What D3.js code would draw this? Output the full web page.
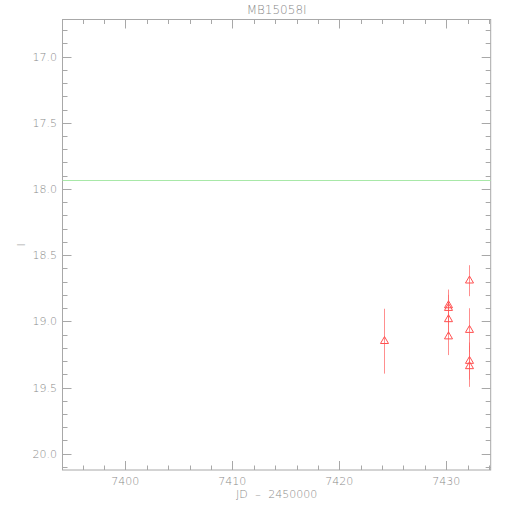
<!DOCTYPE html>
<html><head><meta charset="utf-8">
<script src="https://cdn.jsdelivr.net/npm/d3@7"></script>
<style>body{margin:0;background:#fff}svg{display:block}text{font-family:"DejaVu Sans",sans-serif;fill:#8a8a8a;font-weight:200}</style>
</head><body>
<script>
const title = "MB15058I";
const xTitle = "JD \u2013 2450000";
const yTitle = "I";
const jd   = [7424.18, 7430.19, 7430.19, 7430.19, 7430.19, 7432.15, 7432.15, 7432.15, 7432.15];
const mag  = [19.15, 18.88, 18.90, 18.985, 19.115, 18.693, 19.066, 19.30, 19.34];
const err  = [0.245, 0.12, 0.10, 0.11, 0.14, 0.117, 0.165, 0.14, 0.155];
const refMag = 17.929;
const xDomain = [7394.13, 7434.15];
const yDomain = [16.72, 20.123];
const xMajor = [7400, 7410, 7420, 7430];
const yMajor = [17.0, 17.5, 18.0, 18.5, 19.0, 19.5, 20.0];

const W = 510, H = 510;
const L = 62.5, R = 490.7, T = 19.5, B = 470;
const svg = d3.select("body").append("svg").attr("width", W).attr("height", H);
const x = d3.scaleLinear().domain(xDomain).range([L, R]);
const y = d3.scaleLinear().domain(yDomain).range([T, B]);
const axisCol = "#a8a8a8";

// frame
svg.append("rect").attr("x", L).attr("y", T).attr("width", R - L).attr("height", B - T)
  .attr("fill", "none").attr("stroke", axisCol).attr("stroke-width", 1);

const xMinor = d3.range(7396, 7434.2, 2).filter(v => !xMajor.includes(v));
const yMinor = d3.range(16.8, 20.12, 0.1).map(v => +v.toFixed(1)).filter(v => !yMajor.includes(v));

function ticksX(vals, len) {
  vals.forEach(v => {
    const px = Math.round(x(v)) + 0.5;
    svg.append("line").attr("x1", px).attr("x2", px).attr("y1", B).attr("y2", B - len).attr("stroke", axisCol);
    svg.append("line").attr("x1", px).attr("x2", px).attr("y1", T).attr("y2", T + len).attr("stroke", axisCol);
  });
}
function ticksY(vals, len) {
  vals.forEach(v => {
    const py = Math.round(y(v)) + 0.5;
    svg.append("line").attr("y1", py).attr("y2", py).attr("x1", L).attr("x2", L + len).attr("stroke", axisCol);
    svg.append("line").attr("y1", py).attr("y2", py).attr("x1", R).attr("x2", R - len).attr("stroke", axisCol);
  });
}
ticksX(xMajor, 9); ticksX(xMinor, 4.5);
ticksY(yMajor, 9); ticksY(yMinor, 5);

// tick labels
svg.selectAll(".xl").data(xMajor).enter().append("text")
  .attr("x", d => x(d)).attr("y", 485).attr("text-anchor", "middle").attr("font-size", 11).text(d => d);
svg.selectAll(".yl").data(yMajor).enter().append("text")
  .attr("x", 57).attr("y", d => y(d) + 4).attr("text-anchor", "end").attr("font-size", 11).text(d => d.toFixed(1));

// titles
svg.append("text").attr("x", (L + R) / 2).attr("y", 14).attr("text-anchor", "middle").attr("font-size", 12).text(title);
svg.append("text").attr("x", (L + R) / 2).attr("y", 498).attr("text-anchor", "middle").attr("font-size", 11)
  .attr("word-spacing", 4).text(xTitle);
svg.append("text").attr("transform", `translate(25,${(T + B) / 2}) rotate(-90)`).attr("text-anchor", "middle").attr("font-size", 11).text(yTitle);

// reference line
svg.append("line").attr("x1", L).attr("x2", R).attr("y1", Math.round(y(refMag)) + 0.5).attr("y2", Math.round(y(refMag)) + 0.5)
  .attr("stroke", "#a8e8a8").attr("stroke-width", 1);

// error bars
const pts = jd.map((d, i) => ({ jd: d, mag: mag[i], err: err[i] }));
svg.selectAll(".eb").data(pts).enter().append("line")
  .attr("x1", d => Math.round(x(d.jd)) + 0.5).attr("x2", d => Math.round(x(d.jd)) + 0.5)
  .attr("y1", d => y(d.mag - d.err)).attr("y2", d => y(d.mag + d.err))
  .attr("stroke", "#ff6060").attr("stroke-width", 1).attr("stroke-opacity", 0.7);

// triangles
const tri = d3.symbol().type(d3.symbolTriangle).size(28);
svg.selectAll(".pt").data(pts).enter().append("path")
  .attr("d", tri).attr("transform", d => `translate(${Math.round(x(d.jd)) + 0.5},${y(d.mag)})`)
  .attr("fill", "none").attr("stroke", "#ff5050").attr("stroke-width", 1);
</script>
</body></html>
